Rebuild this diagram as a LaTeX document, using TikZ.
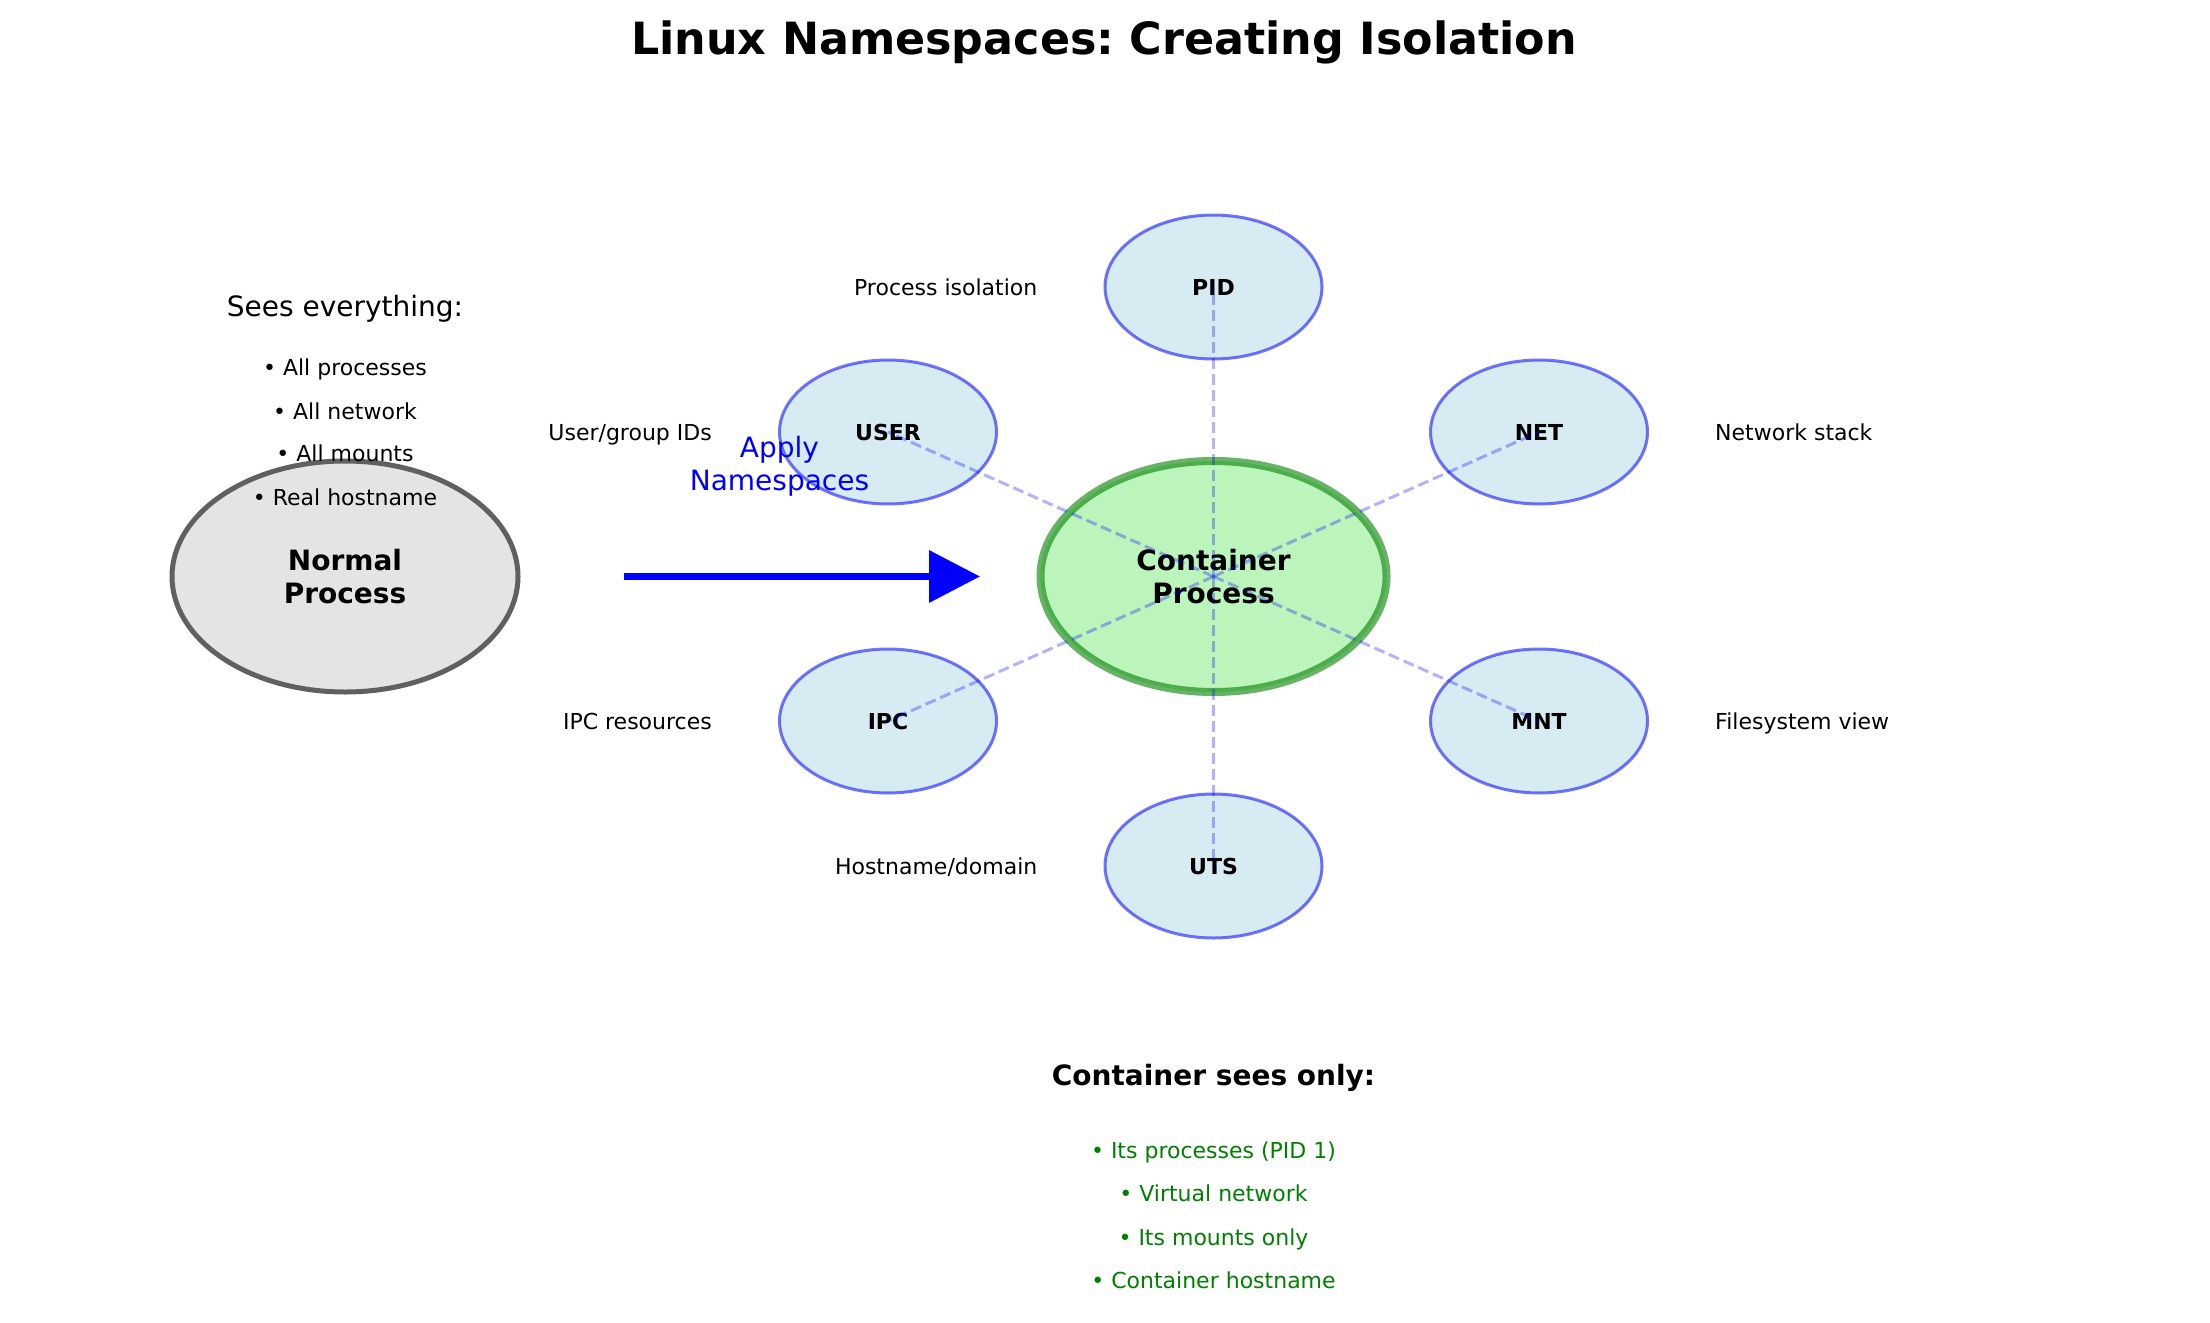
\documentclass[tikz,border=0pt]{standalone}
\usepackage{fontspec}
\setmainfont{DejaVu Sans}
\frenchspacing
\usetikzlibrary{shapes.geometric, positioning, arrows.meta}
\definecolor{npfill}{RGB}{228,228,228}
\definecolor{npedge}{RGB}{96,96,96}
\definecolor{cpfill}{RGB}{144,238,144}
\definecolor{mplgreen}{RGB}{0,128,0}
\definecolor{nsfill}{RGB}{173,216,230}
\tikzset{
    process/.style={
        ellipse,
        minimum width=346pt,
        minimum height=231pt,
        inner sep=0pt,
        align=center,
        font=\fontsize{28}{33}\selectfont\bfseries,
    },
    namespace/.style={
        ellipse,
        draw=blue,
        draw opacity=0.55,
        line width=3pt,
        fill=nsfill,
        fill opacity=0.5,
        text opacity=1,
        minimum width=217pt,
        minimum height=144pt,
        inner sep=0pt,
        font=\fontsize{22}{26}\selectfont\bfseries,
    },
    nslabel/.style={inner sep=0pt, text depth=0pt, font=\fontsize{22}{26}\selectfont},
    nslink/.style={draw=blue, draw opacity=0.3, line width=3pt, dash pattern=on 11pt off 5pt},
    seehead/.style={inner sep=0pt, anchor=base, font=\fontsize{28}{33}\selectfont},
    seeitem/.style={inner sep=0pt, anchor=base, font=\fontsize{22}{26}\selectfont},
}

\begin{document}
\begin{tikzpicture}[x=1pt, y=-1pt, node distance=66pt]
        \useasboundingbox (0,0) rectangle (2210,1322);
        \node[anchor=base, inner sep=0pt, font=\fontsize{44.4}{53}\selectfont\bfseries] (title) at (1104,55)
        {Linux Namespaces: Creating Isolation};
        \node[process, fill=npfill, draw=npedge, line width=5pt] (np) at (345,576.5) {Normal\\Process};
        \node[seehead] (sees) at (345,316.7) {Sees everything:};
        \node[seeitem] (s1) at (345,375) {• All processes};
        \node[seeitem] (s2) at (345,419) {• All network};
        \node[seeitem] (s3) at (345,461.7) {• All mounts};
        \node[seeitem] (s4) at (345,505) {• Real hostname};
        \node[process, fill=cpfill, fill opacity=0.6, text opacity=1, draw=mplgreen, draw opacity=0.6, line width=8pt] (cp) at (1213.5,576.5) {Container\\Process};
        \node[namespace] (pid) at (1213.5,287) {PID};
        \node[namespace] (user) at (888,432) {USER};
        \node[namespace] (net) at (1539,432) {NET};
        \node[namespace] (ipc) at (888,721) {IPC};
        \node[namespace] (mnt) at (1539,721) {MNT};
        \node[namespace] (uts) at (1213.5,866) {UTS};
        \node[nslabel, left=of pid] (lpid) {Process isolation};
        \node[nslabel, left=of user] (luser) {User/group IDs};
        \node[nslabel, right=of net] (lnet) {Network stack};
        \node[nslabel, left=of ipc] (lipc) {IPC resources};
        \node[nslabel, right=of mnt] (lmnt) {Filesystem view};
        \node[nslabel, left=of uts] (luts) {Hostname/domain};
        \foreach \ns in {pid,user,net,ipc,mnt,uts}
            \draw[nslink] (cp.center) -- (\ns.center);
        \draw[-{Triangle[length=51pt, width=51pt]}, blue, line width=7pt] ([xshift=103.5pt]np.east) -- ([xshift=-56.5pt]cp.west);
        \node[align=center, inner sep=0pt, text=blue, font=\fontsize{28}{33}\selectfont] (apply) at (779.5,466) {Apply\\Namespaces};
        \node[seehead, font=\fontsize{28}{33}\selectfont\bfseries] (only) at (1213.5,1085) {Container sees only:};
        \node[seeitem, text=mplgreen] (c1) at (1213.5,1158.3) {• Its processes (PID 1)};
        \node[seeitem, text=mplgreen] (c2) at (1213.5,1201) {• Virtual network};
        \node[seeitem, text=mplgreen] (c3) at (1213.5,1245) {• Its mounts only};
        \node[seeitem, text=mplgreen] (c4) at (1213.5,1288.3) {• Container hostname};
\end{tikzpicture}
\end{document}
